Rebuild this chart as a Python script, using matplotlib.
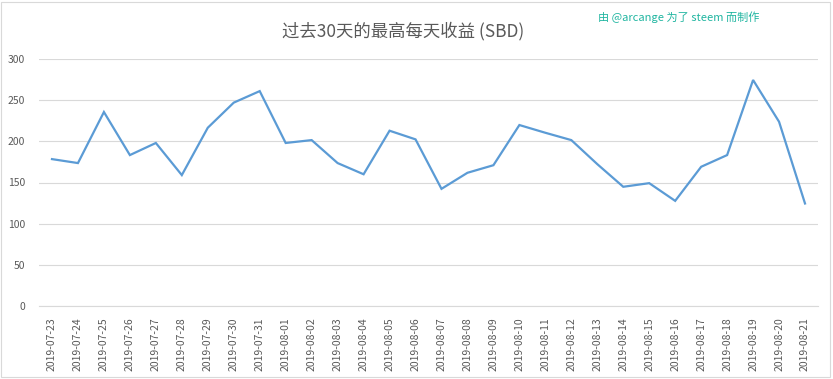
import numpy as np
import matplotlib.pyplot as plt
from matplotlib.patches import Rectangle

# dates and daily max payout (SBD)
dates = ['2019-07-23', '2019-07-24', '2019-07-25', '2019-07-26', '2019-07-27',
         '2019-07-28', '2019-07-29', '2019-07-30', '2019-07-31', '2019-08-01',
         '2019-08-02', '2019-08-03', '2019-08-04', '2019-08-05', '2019-08-06',
         '2019-08-07', '2019-08-08', '2019-08-09', '2019-08-10', '2019-08-11',
         '2019-08-12', '2019-08-13', '2019-08-14', '2019-08-15', '2019-08-16',
         '2019-08-17', '2019-08-18', '2019-08-19', '2019-08-20', '2019-08-21']
values = [178.4, 173.6, 235.6, 183.3, 198.0, 159.0, 216.5, 247.0, 261.0, 198.0,
          201.5, 173.6, 160.0, 212.9, 202.4, 142.3, 161.8, 171.0, 219.8, 210.4,
          201.5, 172.3, 144.8, 149.2, 127.7, 169.1, 183.3, 274.5, 223.8, 124.5]
yticks = [0, 50, 100, 150, 200, 250, 300]

title = '过去30天的最高每天收益 (SBD)'
credit = '由 @arcange 为了 steem 而制作'

plt.rcParams['font.family'] = ['Noto Sans CJK SC', 'DejaVu Sans']

fig = plt.figure(figsize=(8.33, 3.79), dpi=100)
ax = fig.add_axes([39/833, 73/379, (818-39)/833, (306-59)/379])

x = np.arange(len(dates))
ax.plot(x, values, color='#5b9bd5', lw=1.6, solid_joinstyle='miter')

ax.set_xlim(-0.5, len(dates) - 0.5)
ax.set_ylim(0, 300)
ax.set_yticks(yticks)
ax.set_xticks(x)
ax.set_xticklabels(dates, rotation=90, fontsize=7.5, color='#595959')
ax.tick_params(axis='y', labelsize=7.5, labelcolor='#595959', length=0, pad=10)
ax.tick_params(axis='x', length=0, pad=8)
ax.grid(axis='y', color='#d9d9d9', lw=0.8)
ax.set_axisbelow(True)
for s in ['top', 'right', 'left']:
    ax.spines[s].set_visible(False)
ax.spines['bottom'].set_color('#d9d9d9')
ax.spines['bottom'].set_linewidth(0.8)

fig.text(403/833, 1 - 31/379, title, ha='center', va='center',
         fontsize=12.5, color='#595959')
fig.text(598/833, 1 - 17/379, credit, ha='left', va='center',
         fontsize=8, color='#1fb5a0')

# chart border
fig.add_artist(Rectangle((1/833, 2/379), 829/833, 375/379, transform=fig.transFigure,
                         fill=False, edgecolor='#d9d9d9', lw=0.8))

fig.savefig('out.png', dpi=100)
